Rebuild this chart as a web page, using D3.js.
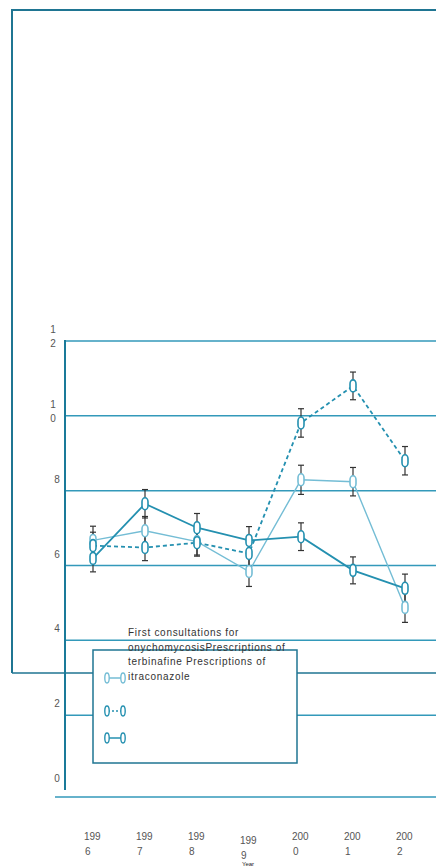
<!DOCTYPE html>
<html>
<head>
<meta charset="utf-8">
<script src="https://cdn.jsdelivr.net/npm/d3@7"></script>
<style>
  body { margin: 0; background: #fff; }
  text { font-family: "Liberation Sans", Arial, sans-serif; }
</style>
</head>
<body>
<script>
// chart data
const years = ["1996", "1997", "1998", "1999", "2000", "2001", "2002"];
const consultations = [6.67, 6.93, 6.64, 5.84, 8.29, 8.24, 4.88];
const consultationsErr = [0.38, 0.38, 0.36, 0.40, 0.39, 0.38, 0.40];
const terbinafine = [6.53, 6.48, 6.61, 6.32, 9.81, 10.8, 8.8];
const terbinafineErr = [0.36, 0.35, 0.36, 0.36, 0.38, 0.37, 0.38];
const itraconazole = [6.19, 7.65, 7.01, 6.67, 6.77, 5.87, 5.39];
const itraconazoleErr = [0.36, 0.38, 0.38, 0.37, 0.37, 0.36, 0.38];
const yTicks = [0, 2, 4, 6, 8, 10, 12];
const legendLines = ["First consultations for", "onychomycosisPrescriptions of", "terbinafine Prescriptions of", "itraconazole"];

const width = 436, height = 867;
const light = "#74bdd5", dark = "#2490b0", grid = "#3399ba", frame = "#1f7592";

const svg = d3.select("body").append("svg")
  .attr("width", width)
  .attr("height", height);

const x = d3.scalePoint().domain(years).range([93, 405]);
const y = d3.scaleLinear().domain([0, 12]).range([790, 341]);

// outer frame
svg.append("path")
  .attr("d", `M12,673 L12,10 L${width},10`)
  .attr("fill", "none").attr("stroke", frame).attr("stroke-width", 2);
svg.append("line")
  .attr("x1", 12).attr("x2", width).attr("y1", 673).attr("y2", 673)
  .attr("stroke", frame).attr("stroke-width", 1.5);

// gridlines
svg.selectAll(".grid")
  .data(yTicks.filter(d => d > 0))
  .enter().append("line")
  .attr("x1", 65).attr("x2", width)
  .attr("y1", d => y(d)).attr("y2", d => y(d))
  .attr("stroke", grid).attr("stroke-width", 1.5);
svg.append("line")
  .attr("x1", 55).attr("x2", width).attr("y1", 797).attr("y2", 797)
  .attr("stroke", grid).attr("stroke-width", 1.5);

// y axis line
svg.append("line")
  .attr("x1", 65).attr("x2", 65).attr("y1", y(12) - 1).attr("y2", y(0))
  .attr("stroke", "#1a7a99").attr("stroke-width", 2);

// y tick labels, wrapped one digit per line
svg.selectAll(".ylab")
  .data(yTicks)
  .enter().append("text")
  .attr("fill", "#555").attr("font-size", 10)
  .attr("text-anchor", "middle")
  .each(function(d) {
    const s = String(d);
    const t = d3.select(this);
    const cx = s.length > 1 ? 53 : 57;
    s.split("").forEach((c, i) => {
      t.append("tspan").attr("x", cx).attr("y", y(d) - 8 + i * 14).text(c);
    });
  });

// x tick labels, wrapped after three characters
svg.selectAll(".xlab")
  .data(years)
  .enter().append("text")
  .attr("fill", "#555").attr("font-size", 10)
  .each(function(d) {
    const t = d3.select(this);
    const off = d === "1999" ? 4 : 0;
    t.append("tspan").attr("x", x(d) - 9).attr("y", 840 + off).text(d.slice(0, 3));
    t.append("tspan").attr("x", x(d) - 8).attr("y", 855 + off).text(d.slice(3));
  });
svg.append("text")
  .attr("x", 248).attr("y", 866)
  .attr("text-anchor", "middle").attr("font-size", 6).attr("fill", "#222")
  .text("Year");

const series = [
  { vals: consultations, err: consultationsErr, color: light, width: 1.4, dash: null },
  { vals: terbinafine, err: terbinafineErr, color: dark, width: 1.8, dash: "4,3" },
  { vals: itraconazole, err: itraconazoleErr, color: dark, width: 1.8, dash: null }
];

const line = d3.line().x((d, i) => x(years[i])).y(d => d);

series.forEach(s => {
  const pts = s.vals.map(v => y(v));
  svg.append("path")
    .datum(pts)
    .attr("d", line)
    .attr("fill", "none")
    .attr("stroke", s.color)
    .attr("stroke-width", s.width)
    .attr("stroke-dasharray", s.dash);
});

// error bars
series.forEach(s => {
  const g = svg.append("g").attr("stroke", "#333").attr("stroke-width", 1.2);
  s.vals.forEach((v, i) => {
    const cx = x(years[i]);
    const top = y(v + s.err[i]), bot = y(v - s.err[i]);
    g.append("line").attr("x1", cx).attr("x2", cx).attr("y1", top).attr("y2", bot);
    g.append("line").attr("x1", cx - 3).attr("x2", cx + 3).attr("y1", top).attr("y2", top);
    g.append("line").attr("x1", cx - 3).attr("x2", cx + 3).attr("y1", bot).attr("y2", bot);
  });
});

// markers
series.forEach(s => {
  svg.selectAll(null)
    .data(s.vals)
    .enter().append("rect")
    .attr("x", (d, i) => x(years[i]) - 3)
    .attr("y", d => y(d) - 6)
    .attr("width", 6).attr("height", 12)
    .attr("rx", 3).attr("ry", 4)
    .attr("fill", "#fff")
    .attr("stroke", s.color)
    .attr("stroke-width", 1.6);
});

// legend box
svg.append("rect")
  .attr("x", 93).attr("y", 650).attr("width", 204).attr("height", 113)
  .attr("fill", "#fff").attr("stroke", frame).attr("stroke-width", 1.5);

const legendY = [678, 711, 738];
series.forEach((s, i) => {
  const ly = legendY[i];
  svg.append("line")
    .attr("x1", 108).attr("x2", 122).attr("y1", ly).attr("y2", ly)
    .attr("stroke", s.color).attr("stroke-width", 1.5)
    .attr("stroke-dasharray", s.dash ? "2,2" : null);
  [107, 123].forEach(lx => {
    svg.append("ellipse")
      .attr("cx", lx).attr("cy", ly).attr("rx", 2.2).attr("ry", 5)
      .attr("fill", "#fff").attr("stroke", s.color).attr("stroke-width", 1.4);
  });
});

const lt = svg.append("text")
  .attr("font-size", 10).attr("fill", "#333")
  .attr("letter-spacing", 0.7);
legendLines.forEach((l, i) => {
  lt.append("tspan").attr("x", 128).attr("y", 636 + i * 14.5).text(l);
});
</script>
</body>
</html>
